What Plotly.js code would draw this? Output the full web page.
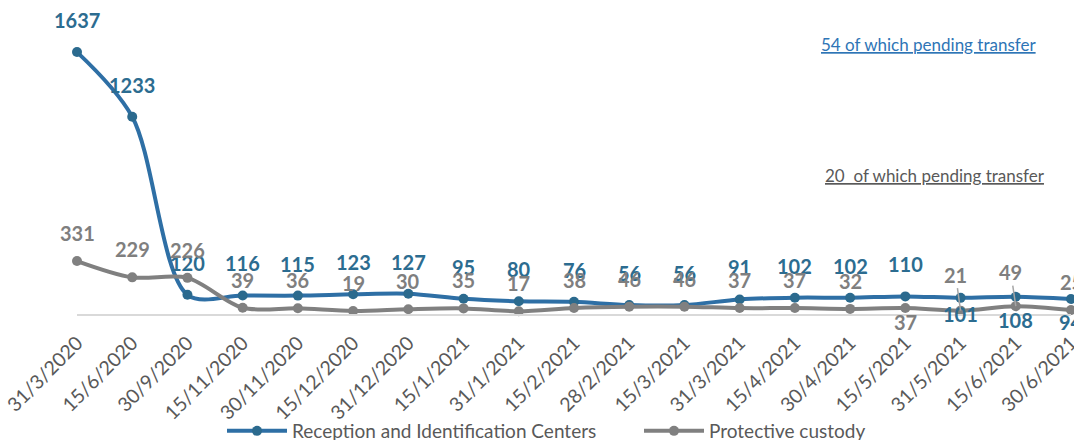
<!DOCTYPE html>
<html>
<head>
<meta charset="utf-8">
<script src="https://cdn.plot.ly/plotly-3.0.1.min.js"></script>
<style>html,body{margin:0;padding:0;background:#fff;}#chart{width:1074px;height:440px;}</style>
</head>
<body>
<div id="chart"></div>
<script>
const dates = ["31/3/2020","15/6/2020","30/9/2020","15/11/2020","30/11/2020","15/12/2020","31/12/2020","15/1/2021","31/1/2021","15/2/2021","28/2/2021","15/3/2021","31/3/2021","15/4/2021","30/4/2021","15/5/2021","31/5/2021","15/6/2021","30/6/2021"];
const ricValues = [1637,1233,120,116,115,123,127,95,80,76,56,56,91,102,102,110,101,108,94];
const pcValues = [331,229,226,39,36,19,30,35,17,38,46,46,37,37,32,37,21,49,25];
const ricName = "Reception and Identification Centers";
const pcName = "Protective custody";
const noteRic = "54 of which pending transfer";
const notePc = "20  of which pending transfer";

const BLUE_LINE = "#2E6FA5", BLUE_MARK = "#2B6A8E", BLUE_TXT = "#2C6C90";
const GREY_LINE = "#808080", GREY_TXT = "#7F7F7F";
const FONT = "Lato, 'Open Sans', sans-serif";

// label placement (style only): indexes drawn below the point / with leader line
const ricBelow = new Set([16,17,18]);
const pcBelow = new Set([15]);
const pcLeader = new Set([16,17]);

const traces = [
  {x: dates, y: ricValues, name: ricName, type: "scatter", mode: "lines+markers",
   line: {color: BLUE_LINE, width: 4, shape: "spline", smoothing: 0.9},
   marker: {color: BLUE_MARK, size: 10}, cliponaxis: false},
  {x: dates, y: pcValues, name: pcName, type: "scatter", mode: "lines+markers",
   line: {color: GREY_LINE, width: 4, shape: "spline", smoothing: 0.9},
   marker: {color: GREY_LINE, size: 10}, cliponaxis: false}
];

const annotations = [];
const labFont = (c) => ({family: FONT, size: 20, color: c, weight: 700});
ricValues.forEach((v, i) => {
  annotations.push({x: dates[i], y: v, xref: "x", yref: "y", text: String(v), showarrow: false,
    font: labFont(BLUE_TXT), yshift: ricBelow.has(i) ? (i === 16 ? -16 : -23) : 32});
});
pcValues.forEach((v, i) => {
  if (pcLeader.has(i)) {
    annotations.push({x: dates[i], y: v, xref: "x", yref: "y", text: String(v), showarrow: true,
      arrowhead: 0, arrowwidth: 1.5, arrowcolor: "#A6A6A6", ax: -5, ay: i === 16 ? -36 : -34, standoff: 0,
      font: labFont(GREY_TXT)});
  } else {
    annotations.push({x: dates[i], y: v, xref: "x", yref: "y", text: String(v), showarrow: false,
      font: labFont(GREY_TXT), yshift: pcBelow.has(i) ? -14 : 28});
  }
});
annotations.push({xref: "paper", yref: "paper", x: (928-77)/994, y: (314-44)/288, text: noteRic, showarrow: false,
  xanchor: "center", yanchor: "middle", font: {family: FONT, size: 17, color: "#2E75B6", lineposition: "under"}});
annotations.push({xref: "paper", yref: "paper", x: (935-77)/994, y: (314-176)/288, text: notePc, showarrow: false,
  xanchor: "center", yanchor: "middle", font: {family: FONT, size: 17, color: "#595959", lineposition: "under"}});

const layout = {
  width: 1074, height: 440,
  margin: {l: 77, r: 3, t: 26, b: 126},
  paper_bgcolor: "#fff", plot_bgcolor: "#fff",
  showlegend: true,
  legend: {orientation: "h", xref: "container", yref: "container", x: 222/1074, y: (440-431)/440,
    xanchor: "left", yanchor: "middle", font: {family: FONT, size: 19, color: "#595959"},
    itemwidth: 60, entrywidth: 342, entrywidthmode: "pixels", bgcolor: "rgba(0,0,0,0)"},
  xaxis: {type: "category", range: [0, 18], showgrid: false, zeroline: false, showline: true,
    linecolor: "#D9D9D9", linewidth: 2, ticks: "", tickangle: -45, automargin: false,
    ticklabelstandoff: 8,
    tickfont: {family: FONT, size: 19.5, color: "#595959"}},
  yaxis: {range: [0, 1800], showgrid: false, zeroline: false, showticklabels: false, showline: false,
    ticks: "", automargin: false},
  annotations: annotations
};

Plotly.newPlot("chart", traces, layout, {displayModeBar: false, staticPlot: true});
</script>
</body>
</html>
